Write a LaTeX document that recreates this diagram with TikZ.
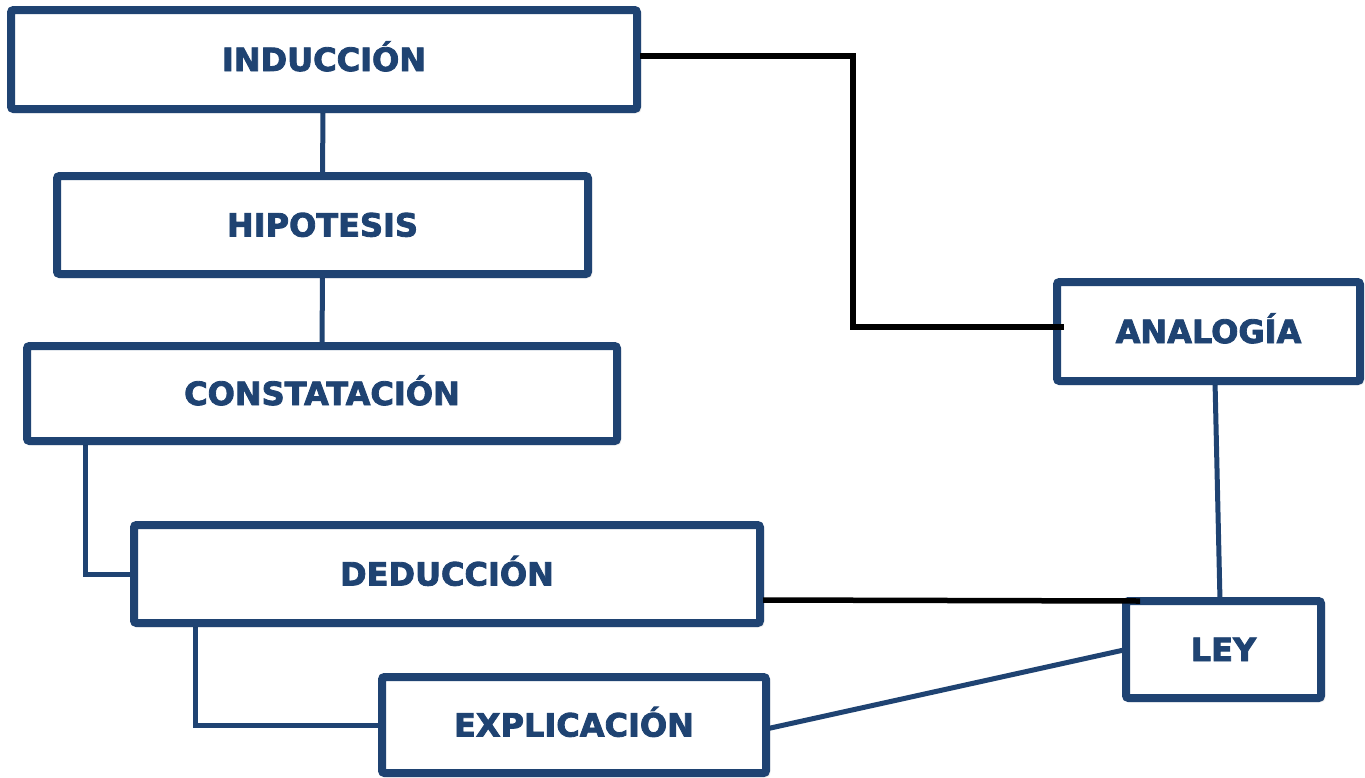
\documentclass[tikz,border=0pt]{standalone}
\usepackage{fontspec}
\setmainfont{DejaVu Sans}
\newfontfamily\heavyfont{DejaVu Sans Bold}[FakeBold=2.6]
\usetikzlibrary{shadows.blur,backgrounds}
\definecolor{navy}{RGB}{31,67,114}
\tikzset{
  box/.style={draw=navy, line width=8pt, fill=white, rounded corners=2.5pt,
    inner sep=0pt, outer sep=0pt, text=navy, text height=23pt, text depth=0pt,
    font=\heavyfont\fontsize{32}{36}\selectfont,
    blur shadow={shadow xshift=2.5pt, shadow yshift=-2.5pt, shadow blur steps=6, shadow opacity=40}},
  blueline/.style={draw=navy, line width=5pt},
  blackline/.style={draw=black, line width=5.5pt}
}
\begin{document}
\begin{tikzpicture}[x=1pt,y=-1pt]
\useasboundingbox (0,0) rectangle (1365,777);
% boxes (centre-line coordinates)
\node[box, minimum width=626pt, minimum height=99pt] (induc) at (324,59.5) {INDUCCIÓN};
\node[box, minimum width=531pt, minimum height=98pt] (hipo) at (322.5,225) {HIPOTESIS};
\node[box, minimum width=590pt, minimum height=95pt] (const) at (322,393.5) {CONSTATACIÓN};
\node[box, minimum width=626pt, minimum height=98pt] (ded) at (447,574) {DEDUCCIÓN};
\node[box, minimum width=384pt, minimum height=96pt] (expl) at (574,725) {EXPLICACIÓN};
\node[box, minimum width=303pt, minimum height=99pt] (ana) at (1208.5,331.5) {ANALOGÍA};
\node[box, minimum width=195pt, minimum height=97pt] (ley) at (1223.5,649.5) {LEY};
% blue connectors (behind the boxes)
\begin{pgfonlayer}{background}
\draw[blueline] ([xshift=-1pt]induc.south) -- (hipo.north);
\draw[blueline] (hipo.south) -- (const.north);
\draw[blueline] ([xshift=58pt]const.south west) |- (ded.west);
\draw[blueline] ([xshift=61pt]ded.south west) |- (expl.west);
\draw[blueline] ([xshift=6.5pt]ana.south) -- ([xshift=-3.5pt]ley.north);
\draw[blueline] ([yshift=-4pt]expl.east) -- (ley.west);
\end{pgfonlayer}
% black connectors (over the borders)
\draw[blackline] ([xshift=3pt,yshift=3.5pt]induc.east) -- ++(213,0) |- ([xshift=7pt,yshift=4.5pt]ana.west);
\draw[blackline] ([xshift=3pt,yshift=-26pt]ded.east) -- ([xshift=14pt]ley.north west);
\end{tikzpicture}
\end{document}
